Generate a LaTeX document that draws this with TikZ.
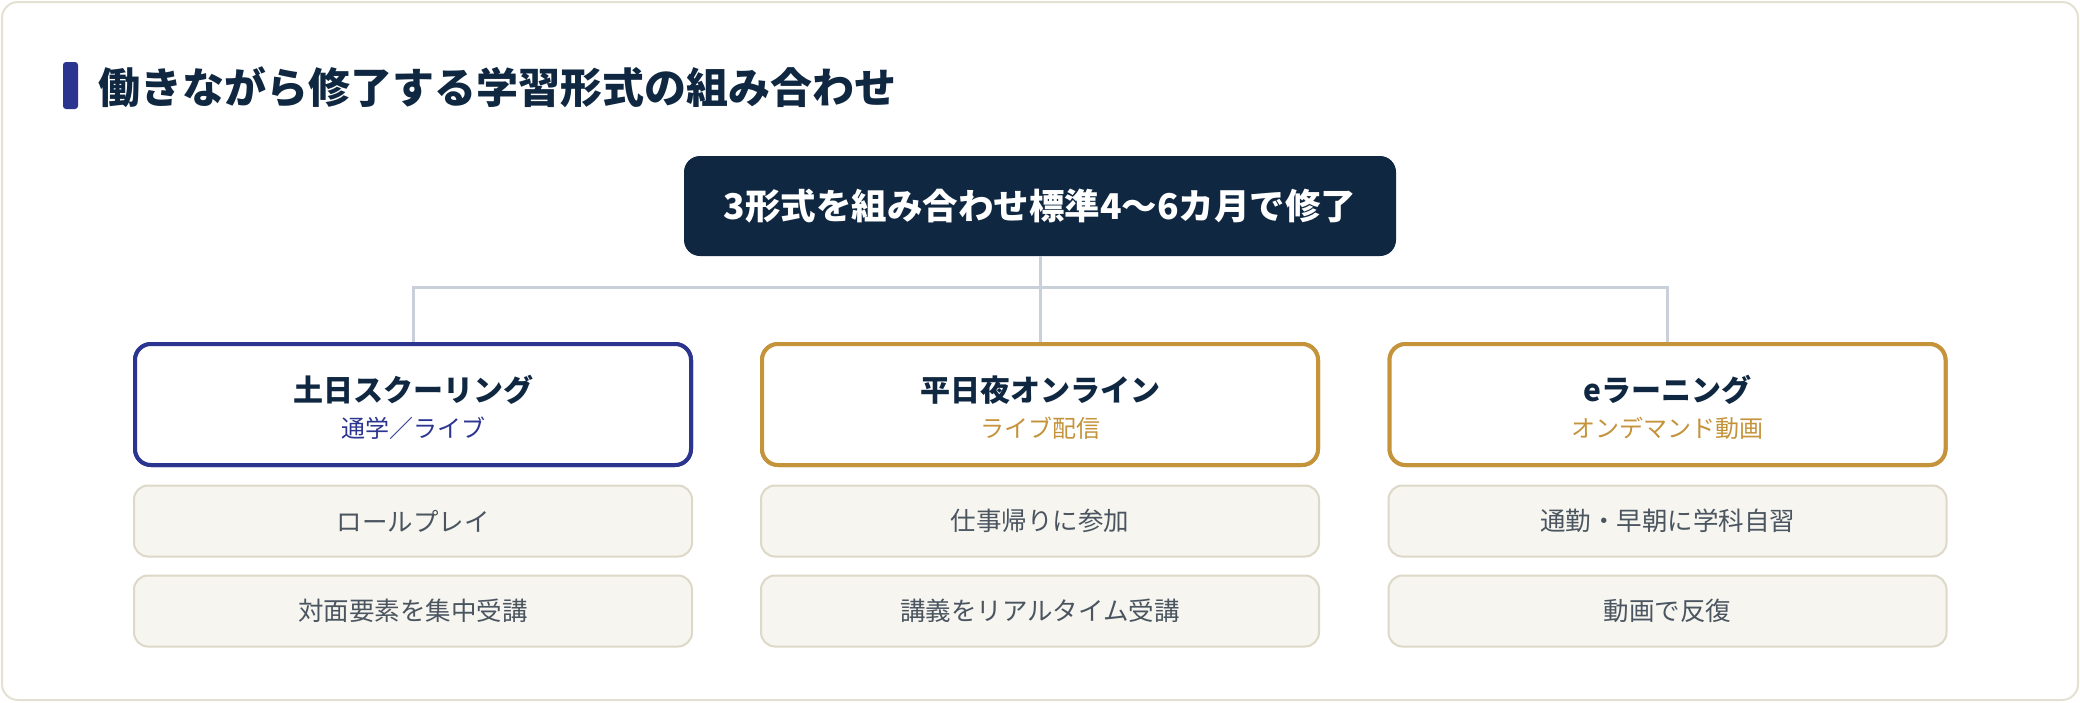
\documentclass[tikz,border=0pt]{standalone}
\usepackage{fontspec}
\setmainfont{Noto Sans CJK JP}
\definecolor{navy}{HTML}{0F2740}
\definecolor{indigo}{HTML}{2B3590}
\definecolor{gold}{HTML}{C4933A}
\definecolor{conn}{HTML}{C9D0DA}
\definecolor{subfill}{HTML}{F6F5F0}
\definecolor{subdraw}{HTML}{DDD8C8}
\definecolor{subtext}{HTML}{4A5560}
\definecolor{frame}{HTML}{E4E1D3}
\tikzset{
  mainbox/.style={draw, line width=4pt, rounded corners=16pt, fill=white,
    minimum width=556pt, minimum height=121pt, inner sep=0pt},
  subbox/.style={draw=subdraw, line width=2pt, rounded corners=14pt, fill=subfill,
    minimum width=558pt, minimum height=71pt, inner sep=0pt, text=subtext,
    font=\fontsize{25.5}{30}\selectfont},
  boxtitle/.style={text=navy, font=\fontsize{30}{36}\selectfont\bfseries, inner sep=0pt},
  boxsub/.style={font=\fontsize{24}{29}\selectfont, inner sep=0pt},
  connector/.style={draw=conn, line width=3pt}
}
\begin{document}
\begin{tikzpicture}[x=1pt,y=-1pt]
\useasboundingbox (0,0) rectangle (2080,702);
\fill[white] (0,0) rectangle (2080,702);
\draw[frame, line width=2pt, rounded corners=16pt] (2,2) rectangle (2078,700);
% title
\fill[indigo, rounded corners=3pt] (63,62) rectangle (78,109);
\node[anchor=west, text=navy, inner sep=0pt, font=\fontsize{42}{50}\selectfont\bfseries] (title) at (98,87) {働きながら修了する学習形式の組み合わせ};
% top box
\node[fill=navy, rounded corners=16pt, minimum width=712pt, minimum height=100pt, inner sep=0pt,
  text=white, font=\fontsize{35.5}{42}\selectfont\bfseries] (top) at (1040,206) {3形式を組み合わせ標準4〜6カ月で修了};
% main boxes
\node[mainbox, draw=indigo] (b1) at (413,404.5) {};
\node[mainbox, draw=gold] (b2) at (1040,404.5) {};
\node[mainbox, draw=gold] (b3) at (1667.5,404.5) {};
% connectors
\coordinate (j1) at (b1.north |- 0,287);
\coordinate (j2) at (1040,287);
\coordinate (j3) at (b3.north |- 0,287);
\draw[connector] (top.south) -- (j2);
\draw[connector] (b1.north) -- (j1) -- (j3) -- (b3.north);
\draw[connector] (j2) -- (b2.north);
% redraw boxes on top of connectors
\node[mainbox, draw=indigo] at (413,404.5) {};
\node[mainbox, draw=gold] at (1040,404.5) {};
\node[mainbox, draw=gold] at (1667.5,404.5) {};
% box labels
\node[boxtitle] (t1) at (413,390) {土日スクーリング};
\node[boxsub, text=indigo] (s1) at (413,428) {通学／ライブ};
\node[boxtitle] (t2) at (1040,390) {平日夜オンライン};
\node[boxsub, text=gold] (s2) at (1040,428) {ライブ配信};
\node[boxtitle] (t3) at (1667.5,390) {eラーニング};
\node[boxsub, text=gold] (s3) at (1667.5,428) {オンデマンド動画};
% sub boxes
\node[subbox] (a1) at (413,521) {ロールプレイ};
\node[subbox] (c1) at (413,611) {対面要素を集中受講};
\node[subbox] (a2) at (1040,521) {仕事帰りに参加};
\node[subbox] (c2) at (1040,611) {講義をリアルタイム受講};
\node[subbox] (a3) at (1667.5,521) {通勤・早朝に学科自習};
\node[subbox] (c3) at (1667.5,611) {動画で反復};
\end{tikzpicture}
\end{document}
